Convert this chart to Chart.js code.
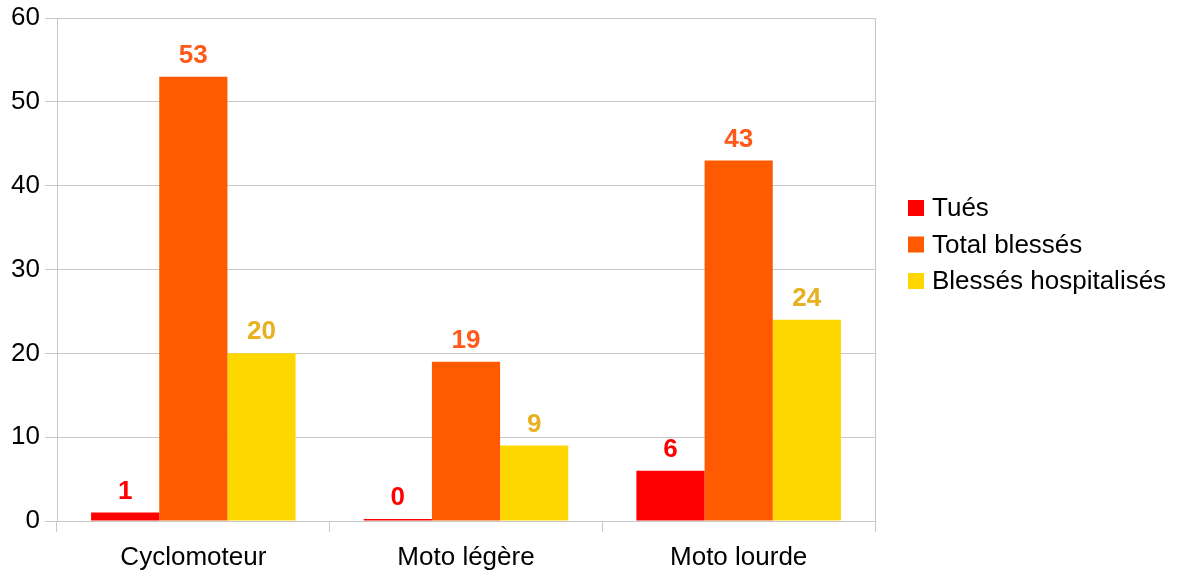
<!DOCTYPE html>
<html><head><meta charset="utf-8">
<script src="https://cdn.jsdelivr.net/npm/chart.js@4/dist/chart.umd.min.js"></script>
<style>html,body{margin:0;padding:0;background:#fff}#w{width:1179px;height:571px}</style>
</head><body><div id="w"><canvas id="c"></canvas></div>
<script>
const categories = ["Cyclomoteur", "Moto légère", "Moto lourde"];
const tues = [1, 0, 6];
const totalBlesses = [53, 19, 43];
const blessesHosp = [20, 9, 24];
const seriesNames = ["Tués", "Total blessés", "Blessés hospitalisés"];
const yTicks = [0, 10, 20, 30, 40, 50, 60];

const barColors = ["#ff0000", "#ff5a00", "#ffd700"];
const labelColors = ["#ff0000", "#ff5a1a", "#e6b01e"];
const FONT = "'Liberation Sans', Arial, sans-serif";
const GRID = '#c8c8c8';

const labelPlugin = {
  id: 'vals',
  beforeDatasetsDraw(chart) {
    const a = chart.chartArea, ctx = chart.ctx;
    ctx.save();
    ctx.strokeStyle = GRID; ctx.lineWidth = 1;
    ctx.beginPath();
    ctx.moveTo(Math.round(a.right) + 0.5, a.top);
    ctx.lineTo(Math.round(a.right) + 0.5, a.bottom);
    ctx.stroke();
    ctx.restore();
  },
  afterDatasetsDraw(chart) {
    const ctx = chart.ctx;
    ctx.save();
    ctx.font = "bold 26px " + FONT;
    ctx.textAlign = 'center';
    ctx.textBaseline = 'alphabetic';
    chart.data.datasets.forEach((ds, i) => {
      const meta = chart.getDatasetMeta(i);
      meta.data.forEach((bar, j) => {
        ctx.fillStyle = labelColors[i];
        ctx.fillText(String(ds.data[j]), bar.x, bar.y - 14);
      });
    });
    ctx.restore();
  }
};

const legendPlugin = {
  id: 'legend2',
  afterDraw(chart) {
    const ctx = chart.ctx;
    ctx.save();
    ctx.font = "26px " + FONT;
    ctx.textBaseline = 'middle';
    ctx.textAlign = 'left';
    seriesNames.forEach((n, i) => {
      const y = 208 + i * 36.5;
      ctx.fillStyle = barColors[i];
      ctx.fillRect(908, y - 8, 16, 16);
      ctx.fillStyle = '#000';
      ctx.fillText(n, 932, y + 1);
    });
    ctx.restore();
  }
};

new Chart(document.getElementById('c'), {
  type: 'bar',
  data: {
    labels: categories,
    datasets: [
      { label: seriesNames[0], data: tues, backgroundColor: barColors[0], minBarLength: 2 },
      { label: seriesNames[1], data: totalBlesses, backgroundColor: barColors[1] },
      { label: seriesNames[2], data: blessesHosp, backgroundColor: barColors[2] }
    ]
  },
  options: {
    responsive: true,
    maintainAspectRatio: false,
    animation: false,
    devicePixelRatio: 1,
    layout: { padding: { top: 0, right: 304, left: 0, bottom: 0 } },
    datasets: { bar: { categoryPercentage: 0.75, barPercentage: 1.0 } },
    plugins: { legend: { display: false }, tooltip: { enabled: false } },
    scales: {
      x: {
        grid: { offset: true, color: GRID, lineWidth: 1, tickLength: 11, drawOnChartArea: false },
        border: { color: GRID },
        ticks: { color: '#000', font: { family: FONT, size: 26 }, padding: 10 },
        afterFit(s) { s.height = 50; }
      },
      y: {
        min: 0, max: 60,
        afterBuildTicks(s) { s.ticks = yTicks.map(v => ({ value: v })); },
        grid: { color: GRID, lineWidth: 1, tickLength: 12 },
        border: { color: GRID },
        ticks: { color: '#000', font: { family: FONT, size: 26, lineHeight: 1 }, padding: 5 },
        afterFit(s) { s.width = 57; }
      }
    }
  },
  plugins: [labelPlugin, legendPlugin]
});
</script>
</body></html>
